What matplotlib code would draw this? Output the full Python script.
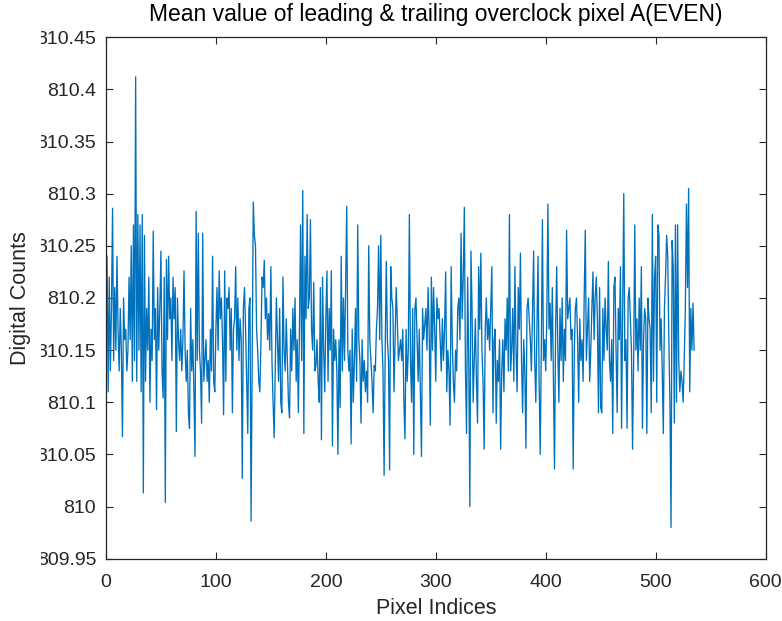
import numpy as np
import matplotlib
matplotlib.use("Agg")
from matplotlib import pyplot as plt
from matplotlib.transforms import Bbox, TransformedBbox

# mean overclock level per pixel index, A(EVEN) channel
counts = [
    810.24, 810.11, 810.22, 810.13, 810.19, 810.286, 810.14, 810.21, 810.15, 810.24,
    810.17, 810.13, 810.19, 810.15, 810.067, 810.20, 810.16, 810.17, 810.13, 810.15,
    810.22, 810.16, 810.25, 810.12, 810.27, 810.14, 810.412, 810.12, 810.28, 810.15,
    810.27, 810.11, 810.28, 810.013, 810.26, 810.12, 810.19, 810.15, 810.22, 810.10,
    810.17, 810.14, 810.264, 810.16, 810.19, 810.093, 810.21, 810.15, 810.19, 810.245,
    810.13, 810.104, 810.22, 810.004, 810.237, 810.16, 810.24, 810.18, 810.20, 810.14,
    810.22, 810.18, 810.21, 810.072, 810.20, 810.16, 810.14, 810.17, 810.13, 810.16,
    810.226, 810.15, 810.12, 810.15, 810.09, 810.075, 810.19, 810.13, 810.16, 810.11,
    810.048, 810.283, 810.14, 810.262, 810.15, 810.13, 810.08, 810.262, 810.12, 810.14,
    810.16, 810.12, 810.14, 810.10, 810.17, 810.13, 810.24, 810.12, 810.11, 810.17,
    810.21, 810.15, 810.226, 810.18, 810.20, 810.16, 810.088, 810.226, 810.12, 810.20,
    810.19, 810.21, 810.15, 810.19, 810.09, 810.17, 810.18, 810.23, 810.15, 810.20,
    810.14, 810.18, 810.16, 810.027, 810.19, 810.21, 810.17, 810.12, 810.070, 810.19,
    810.20, 809.986, 810.14, 810.292, 810.26, 810.25, 810.17, 810.15, 810.12, 810.11,
    810.16, 810.22, 810.21, 810.236, 810.18, 810.20, 810.16, 810.185, 810.15, 810.23,
    810.14, 810.10, 810.066, 810.13, 810.20, 810.16, 810.12, 810.19, 810.10, 810.09,
    810.22, 810.15, 810.13, 810.18, 810.14, 810.10, 810.085, 810.17, 810.13, 810.19,
    810.15, 810.20, 810.12, 810.16, 810.09, 810.17, 810.27, 810.14, 810.303, 810.07,
    810.24, 810.18, 810.28, 810.19, 810.20, 810.275, 810.17, 810.15, 810.215, 810.13,
    810.135, 810.16, 810.12, 810.10, 810.21, 810.064, 810.22, 810.15, 810.11, 810.18,
    810.226, 810.12, 810.19, 810.15, 810.226, 810.058, 810.17, 810.14, 810.16, 810.13,
    810.05, 810.16, 810.095, 810.24, 810.13, 810.20, 810.14, 810.21, 810.288, 810.15,
    810.13, 810.15, 810.06, 810.17, 810.10, 810.14, 810.19, 810.12, 810.27, 810.16,
    810.14, 810.08, 810.16, 810.12, 810.14, 810.11, 810.13, 810.10, 810.25, 810.16,
    810.14, 810.12, 810.09, 810.135, 810.13, 810.17, 810.19, 810.25, 810.16, 810.26,
    810.16, 810.13, 810.03, 810.15, 810.235, 810.16, 810.14, 810.035, 810.23, 810.20,
    810.19, 810.11, 810.16, 810.21, 810.18, 810.14, 810.15, 810.16, 810.14, 810.17,
    810.10, 810.065, 810.17, 810.12, 810.15, 810.28, 810.14, 810.10, 810.19, 810.05,
    810.19, 810.20, 810.16, 810.12, 810.17, 810.11, 810.048, 810.19, 810.16, 810.175,
    810.19, 810.15, 810.21, 810.17, 810.078, 810.22, 810.15, 810.21, 810.17, 810.12,
    810.20, 810.18, 810.19, 810.16, 810.13, 810.18, 810.14, 810.17, 810.225, 810.11,
    810.15, 810.13, 810.078, 810.23, 810.16, 810.12, 810.10, 810.15, 810.13, 810.19,
    810.20, 810.16, 810.262, 810.18, 810.22, 810.287, 810.13, 810.07, 810.22, 810.14,
    810.00, 810.245, 810.19, 810.10, 810.14, 810.18, 810.12, 810.08, 810.23, 810.17,
    810.243, 810.15, 810.12, 810.055, 810.17, 810.20, 810.16, 810.18, 810.15, 810.19,
    810.23, 810.09, 810.16, 810.17, 810.08, 810.14, 810.12, 810.16, 810.055, 810.13,
    810.16, 810.11, 810.18, 810.15, 810.20, 810.13, 810.28, 810.13, 810.15, 810.19,
    810.12, 810.23, 810.15, 810.11, 810.21, 810.17, 810.243, 810.14, 810.09, 810.16,
    810.13, 810.056, 810.19, 810.20, 810.18, 810.16, 810.13, 810.19, 810.245, 810.14,
    810.10, 810.17, 810.24, 810.12, 810.05, 810.15, 810.275, 810.14, 810.16, 810.13,
    810.18, 810.29, 810.17, 810.195, 810.14, 810.21, 810.12, 810.036, 810.17, 810.23,
    810.15, 810.10, 810.19, 810.14, 810.20, 810.12, 810.17, 810.14, 810.265, 810.18,
    810.19, 810.20, 810.16, 810.17, 810.036, 810.15, 810.19, 810.20, 810.16, 810.10,
    810.18, 810.14, 810.16, 810.12, 810.20, 810.265, 810.14, 810.17, 810.20, 810.12,
    810.15, 810.19, 810.225, 810.16, 810.20, 810.22, 810.18, 810.09, 810.21, 810.095,
    810.09, 810.19, 810.14, 810.20, 810.17, 810.15, 810.235, 810.14, 810.12, 810.16,
    810.07, 810.21, 810.22, 810.15, 810.09, 810.19, 810.16, 810.23, 810.075, 810.19,
    810.30, 810.14, 810.16, 810.075, 810.20, 810.21, 810.18, 810.15, 810.055, 810.14,
    810.27, 810.15, 810.18, 810.13, 810.20, 810.15, 810.23, 810.075, 810.16, 810.19,
    810.18, 810.07, 810.20, 810.18, 810.17, 810.09, 810.28, 810.12, 810.22, 810.24,
    810.10, 810.27, 810.26, 810.15, 810.18, 810.13, 810.07, 810.19, 810.22, 810.26,
    810.24, 810.16, 810.10, 809.98, 810.255, 810.23, 810.08, 810.27, 810.10, 810.27,
    810.14, 810.11, 810.13, 810.12, 810.10, 810.14, 810.19, 810.29, 810.21, 810.305,
    810.11, 810.19, 810.15, 810.195, 810.15,
]
pixel_idx = np.arange(1, len(counts) + 1)

xticks = [0, 100, 200, 300, 400, 500, 600]
yticks = [809.95, 810, 810.05, 810.1, 810.15, 810.2, 810.25, 810.3, 810.35, 810.4, 810.45]
ytick_labels = ["809.95", "810", "810.05", "810.1", "810.15", "810.2",
                "810.25", "810.3", "810.35", "810.4", "810.45"]

plt.rcParams["font.family"] = ["Liberation Sans", "DejaVu Sans"]
dark = "#262626"

fig = plt.figure(figsize=(7.82, 6.21), dpi=100)
ax = fig.add_axes([0.1355, 0.1003, 0.8435, 0.8398])

ax.plot(pixel_idx, counts, color="#0072BD", linewidth=0.95)

ax.set_xlim(0, 600)
ax.set_ylim(809.95, 810.45)
ax.set_xticks(xticks)
ax.set_yticks(yticks)
ax.set_yticklabels(ytick_labels)

ax.tick_params(direction="in", top=True, right=True, length=5, width=0.8,
               colors=dark, labelsize=14)
ax.tick_params(axis="x", pad=11)
ax.tick_params(axis="y", pad=7)
for sp in ax.spines.values():
    sp.set_color(dark)
    sp.set_linewidth(0.9)

# the long y labels lose their leading digit at the left edge of the frame
label_clip = TransformedBbox(Bbox.from_extents(41 / 782, 0, 1, 1), fig.transFigure)
for lbl in ax.get_yticklabels():
    lbl.set_clip_box(label_clip)
    lbl.set_clip_on(True)

ax.set_title("Mean value of leading & trailing overclock pixel A(EVEN)",
             fontsize=16.5, color="black", pad=12)
ax.set_xlabel("Pixel Indices", fontsize=15.5, color=dark, labelpad=5)
ax.set_ylabel("Digital Counts", fontsize=15.5, color=dark, labelpad=4)

fig.savefig("out.png", dpi=100)
